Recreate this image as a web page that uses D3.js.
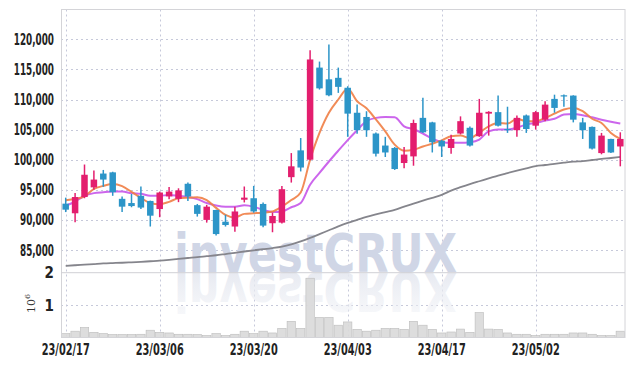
<!DOCTYPE html>
<html>
<head>
<meta charset="utf-8">
<style>
body { margin: 0; background: #fff; }
svg text.lbl { font-family: "DejaVu Sans Condensed", "DejaVu Sans", sans-serif; font-weight: bold; font-size: 15px; fill: #222; }
.grid line { stroke: #c6c9da; stroke-dasharray: 2,3; }
.frame { fill: none; stroke: #d4d4d8; }
</style>
</head>
<body>
<svg width="634" height="366"></svg>
<script src="https://d3js.org/d3.v7.min.js"></script>
<script>
var dates = ["23/02/17","23/02/20","23/02/21","23/02/22","23/02/23","23/02/24","23/02/27","23/02/28","23/03/02","23/03/03",
  "23/03/06","23/03/07","23/03/08","23/03/09","23/03/10","23/03/13","23/03/14","23/03/15","23/03/16","23/03/17",
  "23/03/20","23/03/21","23/03/22","23/03/23","23/03/24","23/03/27","23/03/28","23/03/29","23/03/30","23/03/31",
  "23/04/03","23/04/04","23/04/05","23/04/06","23/04/07","23/04/10","23/04/11","23/04/12","23/04/13","23/04/14",
  "23/04/17","23/04/18","23/04/19","23/04/20","23/04/21","23/04/24","23/04/25","23/04/26","23/04/27","23/04/28",
  "23/05/02","23/05/03","23/05/04","23/05/08","23/05/09","23/05/10","23/05/11","23/05/12","23/05/15","23/05/16"];

var open  = [92700,91100,93800,95400,97700,97900,93500,92800,94000,93150,
  91800,93900,93500,96000,92450,90000,91650,89700,88900,93350,
  93600,92650,89450,89550,97100,101550,100000,115300,113350,113600,
  111950,107800,107100,104350,102350,101950,99450,100550,106950,106200,
  103150,101950,104350,105300,103900,107650,107900,105100,104900,107350,
  105650,106650,110100,110700,110650,106200,105450,101100,103450,102200];
var high  = [93700,94450,99200,98200,98300,98000,93900,94300,95550,93200,
  94700,95450,95250,96200,92650,92500,91700,90850,92200,95550,
  95650,92900,91200,95650,101100,103600,118200,116300,119150,115300,
  112200,109150,108050,104500,103800,102100,102100,106650,110300,106300,
  103300,104150,107200,105500,110100,108050,110650,108800,107350,107500,
  108100,109700,110800,110850,110700,106950,105500,104450,103500,104550];
var low   = [91300,89600,93600,95000,95500,94000,91300,92100,91800,88900,
  90450,93450,92950,93150,90550,89550,87400,88900,88050,92900,
  91200,88800,87950,89400,96200,98050,99900,111650,110550,111100,
  103800,104300,103800,100550,100450,98300,98600,99000,104450,101200,
  100450,101000,104200,102200,103800,104000,105500,104450,103800,104450,
  105000,106400,107800,108800,106200,103450,101700,100900,101100,98900];
var close = [91700,93800,97500,96700,96700,94600,92200,92300,92050,90700,
  94550,94700,94900,93900,91000,92200,87650,89150,91400,93700,
  91400,89050,90650,95100,98900,98700,116650,111850,110700,112100,
  107650,104900,104900,101000,101200,98450,100850,106100,104550,102900,
  102200,103450,106400,102350,107800,107950,105650,104900,106950,105100,
  107900,109150,108600,110550,106650,104900,101850,104000,101200,103450];
var volume = [120000,195000,310000,160000,120000,90000,90000,90000,100000,225000,
  160000,140000,100000,100000,90000,60000,120000,60000,100000,195000,
  120000,195000,140000,280000,500000,280000,1830000,620000,620000,380000,
  480000,250000,195000,225000,280000,280000,250000,500000,380000,250000,
  140000,170000,260000,160000,770000,260000,250000,140000,100000,100000,
  60000,100000,100000,100000,140000,140000,100000,60000,60000,195000];

// moving averages as drawn (orange, purple, gray)
var maShort = [93250,93500,93900,95150,95650,95950,95600,94650,93650,92800,
  92600,93000,93600,93700,93750,93300,92000,90850,90400,91000,
  91100,91200,91400,92200,93300,94550,100000,104450,107800,110000,
  111800,109700,108550,106700,104700,102500,101500,101650,102200,102650,
  103200,103900,104000,103600,104500,105550,106100,106000,106800,106400,
  106400,106950,107650,108350,108600,108050,106800,106100,104450,103450];
var maMid = [92350,93050,94000,94450,94600,94700,94700,94450,94350,94000,
  94000,94150,94000,93800,93450,92800,92400,92200,92200,92450,
  92200,91650,91300,91400,92100,92800,95850,97800,99700,101500,
  103250,104900,106400,106950,107100,107050,105550,105050,104350,103500,
  102950,102800,102800,102900,103350,104700,105000,105000,105300,105850,
  106100,106500,106800,107500,107600,107400,107050,106650,106300,106000];
var maLong = [82380,82470,82570,82670,82770,82830,82880,82950,83030,83130,
  83230,83370,83530,83670,83800,83970,84130,84330,84530,84750,
  84950,85130,85330,85580,85950,86420,87000,87630,88280,88920,
  89500,90000,90500,90920,91300,91670,92200,92700,93200,93670,
  94170,94870,95430,95950,96420,96880,97370,97780,98180,98570,
  98950,99120,99320,99500,99670,99780,99950,100130,100280,100450];

var priceTicks = [85000,90000,95000,100000,105000,110000,115000,120000];
var volTicks = [1000000,2000000];
var dateTicks = ["23/02/17","23/03/06","23/03/20","23/04/03","23/04/17","23/05/02"];

var svg = d3.select("svg");
var pLeft = 61, pRight = 625, pTop = 9.5, pSplit = 272.7, pBottom = 337.5;

var x = d3.scaleBand().domain(d3.range(dates.length)).range([pLeft, pRight]);
var cx = function(i) { return x(i) + x.bandwidth() / 2; };
var y = d3.scaleLinear().domain([81230, 124950]).range([pSplit, pTop]);
var yv = d3.scaleLinear().domain([0, 2000000]).range([pBottom, pSplit]);

// approximate a narrow label face: squeeze text to a width per glyph
function labelWidth(s) {
  var w = 0;
  for (var k = 0; k < s.length; k++) {
    var c = s[k];
    w += c === "," ? 3 : (c === "/" ? 5.4 : 6.2);
  }
  return w;
}

// grid
var grid = svg.append("g").attr("class", "grid");
grid.selectAll(".h").data(priceTicks).enter().append("line")
    .attr("x1", pLeft).attr("x2", pRight)
    .attr("y1", function(d) { return Math.round(y(d)) + 0.5; })
    .attr("y2", function(d) { return Math.round(y(d)) + 0.5; });
grid.selectAll(".v").data(dateTicks).enter().append("line")
    .attr("x1", function(d) { return Math.round(cx(dates.indexOf(d))) + 0.5; })
    .attr("x2", function(d) { return Math.round(cx(dates.indexOf(d))) + 0.5; })
    .attr("y1", pTop).attr("y2", pBottom);
grid.append("line").attr("x1", pLeft).attr("x2", pRight)
    .attr("y1", Math.round(yv(1000000)) + 0.5).attr("y2", Math.round(yv(1000000)) + 0.5);

// watermark with reflection
var defs = svg.append("defs");
var grad = defs.append("linearGradient").attr("id", "fade").attr("x1", 0).attr("x2", 0).attr("y1", 0).attr("y2", 1);
grad.append("stop").attr("offset", "0%").attr("stop-color", "#eef0f5").attr("stop-opacity", 0.4);
grad.append("stop").attr("offset", "100%").attr("stop-color", "#e2e5ee").attr("stop-opacity", 1);
function mark(sel) {
  return sel.text("investCRUX")
    .attr("x", 174).attr("y", 272)
    .attr("textLength", 283).attr("lengthAdjust", "spacingAndGlyphs")
    .style("font-family", "'DejaVu Sans', sans-serif")
    .style("font-weight", "bold").style("font-size", "53px");
}
mark(svg.append("text")).attr("fill", "#d0d6e6");
mark(svg.append("text")).attr("transform", "translate(0,545) scale(1,-1)").attr("fill", "url(#fade)");

// volume bars
svg.append("g").selectAll("rect").data(volume).enter().append("rect")
    .attr("x", function(d, i) { return x(i) + 0.5; })
    .attr("width", x.bandwidth() - 1)
    .attr("y", function(d) { return yv(d); })
    .attr("height", function(d) { return pBottom - yv(d); })
    .attr("fill", "#d9d9d9").attr("fill-opacity", 0.9)
    .attr("stroke", "#bcbcbc").attr("stroke-width", 0.6);

// frame
svg.append("rect").attr("class", "frame").attr("x", pLeft + 0.5).attr("y", pTop)
    .attr("width", pRight - pLeft - 0.5).attr("height", pBottom - pTop);
svg.append("line").attr("x1", pLeft).attr("x2", pRight).attr("y1", pSplit).attr("y2", pSplit)
    .attr("stroke", "#d0d0d6");

// moving averages
var line = function(arr) {
  return d3.line().x(function(d, i) { return cx(i); }).y(function(d) { return y(d); })
    .curve(d3.curveMonotoneX)(arr);
};
svg.append("path").attr("d", line(maLong)).attr("fill", "none").attr("stroke", "#85858c").attr("stroke-width", 1.8);
svg.append("path").attr("d", line(maMid)).attr("fill", "none").attr("stroke", "#c655ea").attr("stroke-opacity", 0.9).attr("stroke-width", 2);
svg.append("path").attr("d", line(maShort)).attr("fill", "none").attr("stroke", "#ef7e45").attr("stroke-opacity", 0.9).attr("stroke-width", 2);

// candles
var up = "#e31e6e", down = "#2c95c8";
var candle = svg.append("g").selectAll("g").data(dates).enter().append("g");
candle.append("line")
    .attr("x1", function(d, i) { return cx(i); }).attr("x2", function(d, i) { return cx(i); })
    .attr("y1", function(d, i) { return y(high[i]); }).attr("y2", function(d, i) { return y(low[i]); })
    .attr("stroke", function(d, i) { return close[i] >= open[i] ? up : down; })
    .attr("stroke-width", 1.5);
candle.append("rect")
    .attr("x", function(d, i) { return cx(i) - 3.25; }).attr("width", 6.5)
    .attr("y", function(d, i) { return y(Math.max(open[i], close[i])); })
    .attr("height", function(d, i) { return Math.max(1.2, Math.abs(y(open[i]) - y(close[i]))); })
    .attr("fill", function(d, i) { return close[i] >= open[i] ? up : down; });

// axes labels
svg.append("g").selectAll("text").data(priceTicks).enter().append("text")
    .attr("class", "lbl")
    .attr("x", 54).attr("y", function(d) { return y(d) + 5.5; })
    .attr("text-anchor", "end")
    .attr("textLength", function(d) { return labelWidth(d3.format(",")(d)); })
    .attr("lengthAdjust", "spacingAndGlyphs")
    .text(function(d) { return d3.format(",")(d); });
svg.append("g").selectAll("text").data(volTicks).enter().append("text")
    .attr("class", "lbl")
    .attr("x", 54).attr("y", function(d) { return yv(d) + 5.5; })
    .attr("text-anchor", "end")
    .text(function(d) { return d / 1000000; });
var exp = svg.append("text").attr("transform", "translate(35,313) rotate(-90)")
    .style("font-family", "'DejaVu Serif', serif").style("font-size", "11px").attr("fill", "#333");
exp.append("tspan").text("10");
exp.append("tspan").attr("dy", -5).style("font-size", "8px").text("6");
svg.append("g").selectAll("text").data(dateTicks).enter().append("text")
    .attr("class", "lbl")
    .attr("x", function(d) { return cx(dates.indexOf(d)); }).attr("y", 355)
    .attr("text-anchor", "middle")
    .attr("textLength", function(d) { return labelWidth(d); })
    .attr("lengthAdjust", "spacingAndGlyphs")
    .text(function(d) { return d; });
</script>
</body>
</html>
